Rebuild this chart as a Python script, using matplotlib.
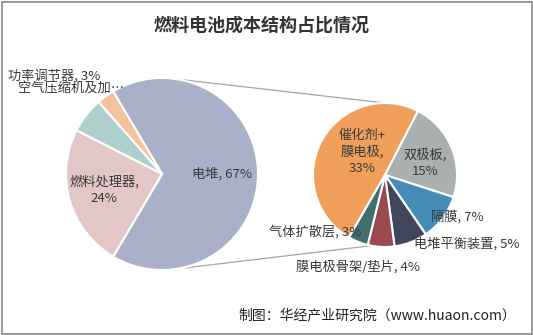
import numpy as np
import matplotlib
matplotlib.use('Agg')
import matplotlib.pyplot as plt
from matplotlib.patches import Rectangle

plt.rcParams['font.family'] = ['Noto Sans CJK SC', 'DejaVu Sans']

# primary pie (电堆 is broken out into the secondary pie)
main_labels = ['电堆', '功率调节器', '空气压缩机及加…', '燃料处理器']
main_values = [67, 3, 6, 24]
main_colors = ['#A9B0C8', '#F5C39B', '#AFCFCF', '#E3C7C7']

# secondary pie: breakdown of 电堆
sub_labels = ['催化剂+\n膜电极', '双极板', '隔膜', '电堆平衡装置', '膜电极骨架/垫片', '气体扩散层']
sub_values = [33, 15, 7, 5, 4, 3]
sub_colors = ['#F0A05A', '#AAAFAF', '#468CB9', '#41465F', '#9B4B50', '#416E6E']

W, H = 533, 335
txt = '#3A3A3A'

fig = plt.figure(figsize=(W / 100, H / 100), dpi=100)
ax = fig.add_axes([0, 0, 1, 1])

def py(y):  # pixel row -> data y
    return H - y

c1, r1 = (162, py(174)), 96
c2, r2 = (385, py(175)), 72

wedge_kw = dict(edgecolor='white', linewidth=1.5)
ax.pie(main_values, colors=main_colors, center=c1, radius=r1,
       startangle=-main_values[0] * 3.6 / 2, counterclock=True,
       wedgeprops=wedge_kw, frame=True)
ax.pie(sub_values, colors=sub_colors, center=c2, radius=r2,
       startangle=240, counterclock=False,
       wedgeprops=wedge_kw, frame=True)

# connector lines
def pt(c, r, ang):
    a = np.deg2rad(ang)
    return c[0] + r * np.cos(a), c[1] + r * np.sin(a)

for a1, a2 in [(83.5, 90), (-83.5, -101)]:
    p1 = pt(c1, r1, a1)
    p2 = pt(c2, r2, a2)
    ax.plot([p1[0], p2[0]], [p1[1], p2[1]], color='#A6A6A6', lw=0.9, zorder=0)

fs = 9.5
# labels on primary pie
ax.text(222, py(174), f'{main_labels[0]}, {main_values[0]}%', ha='center', va='center', fontsize=fs, color=txt)
ax.text(104, py(190), f'{main_labels[3]},\n{main_values[3]}%', ha='center', va='center', fontsize=fs, color=txt, linespacing=1.3)
ax.text(8, py(76), f'{main_labels[1]}, {main_values[1]}%', ha='left', va='center', fontsize=fs, color=txt)
ax.text(18, py(89), main_labels[2], ha='left', va='center', fontsize=fs, color=txt)

# labels on secondary pie
sub_pos = [(362, 152), (425, 163), (457, 217), (467, 244), (358, 267), (315, 232)]
for lab, v, (x, y) in zip(sub_labels, sub_values, sub_pos):
    if lab.startswith('催化剂') or lab == '双极板':
        s = f'{lab},\n{v}%'
    else:
        s = f'{lab}, {v}%'
    ax.text(x, py(y), s, ha='center', va='center', fontsize=fs, color=txt, linespacing=1.3)

ax.text(W / 2 - 5, py(25), '燃料电池成本结构占比情况', ha='center', va='center',
        fontsize=13, fontweight='bold', color='#333333')
ax.text(516, py(315), '制图：华经产业研究院（www.huaon.com）', ha='right', va='center',
        fontsize=10, color='#222222')

ax.set_xlim(0, W)
ax.set_ylim(0, H)
ax.set_aspect('equal')
ax.axis('off')

fig.patches.append(Rectangle((1.5 / W, 1.5 / H), 1 - 3 / W, 1 - 3 / H, transform=fig.transFigure,
                             fill=False, edgecolor='#888888', lw=1.2))

fig.savefig('out.png', dpi=100)
